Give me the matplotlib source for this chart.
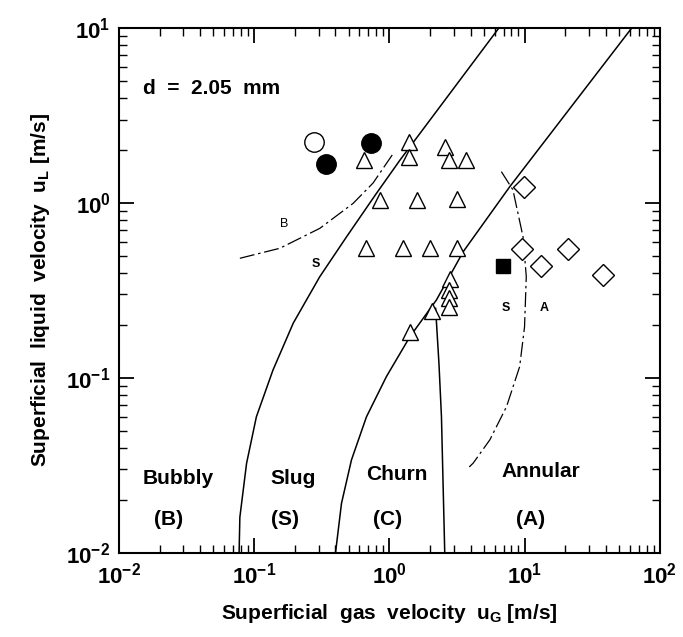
import matplotlib
matplotlib.use("Agg")
import matplotlib.pyplot as plt
from matplotlib.ticker import LogLocator, NullFormatter, FixedLocator

plt.rcParams['font.family'] = ['Liberation Sans', 'DejaVu Sans']
plt.rcParams['mathtext.fontset'] = 'custom'
plt.rcParams['mathtext.rm'] = 'Liberation Sans:bold'
plt.rcParams['mathtext.it'] = 'Liberation Sans:bold'
plt.rcParams['mathtext.bf'] = 'Liberation Sans:bold'

# measured points (u_G, u_L) in m/s
bubbly_x = [0.276]
bubbly_y = [2.23]
bubbly_f_x = [0.342, 0.738]
bubbly_f_y = [1.66, 2.21]
slug_x = [6.95]
slug_y = [0.436]
churn_x = [1.39, 0.65, 1.40, 2.57, 2.77, 3.69, 0.85, 1.60, 3.17,
           0.67, 1.26, 2.0, 3.17, 2.8, 2.75, 2.75, 2.75, 2.08, 1.42]
churn_y = [2.23, 1.75, 1.82, 2.09, 1.77, 1.77, 1.04, 1.04, 1.06,
           0.556, 0.556, 0.556, 0.556, 0.37, 0.32, 0.285, 0.255, 0.24, 0.184]
annular_x = [9.9, 9.5, 13.2, 21.0, 38.0]
annular_y = [1.23, 0.543, 0.436, 0.543, 0.39]

# transition boundaries
bs_x = [0.0775, 0.0785, 0.088, 0.104, 0.138, 0.195, 0.306, 0.483, 0.80, 1.20, 6.46]
bs_y = [0.01, 0.016, 0.0325, 0.060, 0.111, 0.206, 0.379, 0.641, 1.13, 1.76, 10.0]
sc_x = [0.400, 0.443, 0.525, 0.678, 0.953, 1.42, 2.23, 3.52, 7.78, 62.0]
sc_y = [0.01, 0.0192, 0.034, 0.060, 0.102, 0.172, 0.279, 0.527, 1.24, 10.0]
ca_x = [2.2, 2.33, 2.43, 2.57]
ca_y = [0.25, 0.12, 0.060, 0.01]
bs_exp_x = [0.0785, 0.155, 0.306, 0.54, 0.758, 1.07]
bs_exp_y = [0.483, 0.551, 0.716, 0.995, 1.30, 1.92]
sa_exp_x = [6.74, 8.2, 9.75, 10.3, 10.0, 9.2, 7.36, 5.54, 4.17, 3.9]
sa_exp_y = [1.51, 1.19, 0.64, 0.38, 0.196, 0.116, 0.0686, 0.0443, 0.0326, 0.031]

fig = plt.figure(figsize=(6.83, 6.37), dpi=100)
ax = fig.add_axes([0.174, 0.132, 0.792, 0.824])
ax.set_xscale('log')
ax.set_yscale('log')
ax.set_xlim(1e-2, 1e2)
ax.set_ylim(1e-2, 1e1)

lw = 1.1
ax.plot(bs_x, bs_y, color='black', lw=lw)
ax.plot(sc_x, sc_y, color='black', lw=lw)
ax.plot(ca_x, ca_y, color='black', lw=lw)
dd = (0, (12, 3, 2, 3))
ax.plot(bs_exp_x, bs_exp_y, color='black', lw=0.9, linestyle=dd)
ax.plot(sa_exp_x, sa_exp_y, color='black', lw=0.9, linestyle=dd)

ax.plot(bubbly_x, bubbly_y, 'o', ms=14, mfc='white', mec='black', mew=1.0)
ax.plot(bubbly_f_x, bubbly_f_y, 'o', ms=14, mfc='black', mec='black')
ax.plot(churn_x, churn_y, '^', ms=12, mfc='white', mec='black', mew=1.0)
ax.plot(annular_x, annular_y, 'D', ms=11, mfc='white', mec='black', mew=1.0)
ax.plot(slug_x, slug_y, 's', ms=10, mfc='black', mec='black')

ax.text(0.015, 4.5, 'd  =  2.05  mm', fontsize=15, fontweight='bold', va='center')
ax.text(0.168, 0.76, 'B', fontsize=9, ha='center', va='center')
ax.text(0.285, 0.45, 'S', fontsize=9, ha='center', va='center', fontweight='bold')
ax.text(7.3, 0.252, 'S', fontsize=9, ha='center', va='center', fontweight='bold')
ax.text(14.0, 0.252, 'A', fontsize=9, ha='center', va='center', fontweight='bold')

regions = ['Bubbly', 'Slug', 'Churn', 'Annular']
codes = ['(B)', '(S)', '(C)', '(A)']
reg_x = [0.0273, 0.194, 1.14, 13.2]
reg_y = [0.0267, 0.0267, 0.0279, 0.0291]
code_x = [0.0233, 0.168, 0.975, 11.0]
for name, c, rx, ry, cx in zip(regions, codes, reg_x, reg_y, code_x):
    ax.text(rx, ry, name, fontsize=15, fontweight='bold', ha='center', va='center')
    ax.text(cx, 0.0155, c, fontsize=15, fontweight='bold', ha='center', va='center')

ax.xaxis.set_major_locator(FixedLocator([1e-2, 1e-1, 1e0, 1e1, 1e2]))
ax.yaxis.set_major_locator(FixedLocator([1e-2, 1e-1, 1e0, 1e1]))
ax.xaxis.set_minor_locator(LogLocator(base=10, subs=range(2, 10), numticks=20))
ax.yaxis.set_minor_locator(LogLocator(base=10, subs=range(2, 10), numticks=20))
ax.xaxis.set_minor_formatter(NullFormatter())
ax.yaxis.set_minor_formatter(NullFormatter())
ax.set_xticklabels([r'$10^{-2}$', r'$10^{-1}$', r'$10^{0}$', r'$10^{1}$', r'$10^{2}$'])
ax.set_yticklabels([r'$10^{-2}$', r'$10^{-1}$', r'$10^{0}$', r'$10^{1}$'])
ax.tick_params(which='both', direction='in', top=True, right=True, labelsize=16)
ax.tick_params(which='major', length=11, width=1.3)
ax.tick_params(which='minor', length=6, width=1.0)
ax.tick_params(axis='x', which='major', pad=7)
ax.tick_params(axis='y', which='major', pad=6)
for s in ax.spines.values():
    s.set_linewidth(1.5)

ax.set_xlabel(r'Superficial  gas  velocity  u$_{\mathrm{G}}$ [m/s]', fontsize=15,
              fontweight='bold', labelpad=10)
ax.set_ylabel(r'Superficial  liquid  velocity  u$_{\mathrm{L}}$ [m/s]', fontsize=15,
              fontweight='bold', labelpad=10)

fig.savefig('out.png', dpi=100)
